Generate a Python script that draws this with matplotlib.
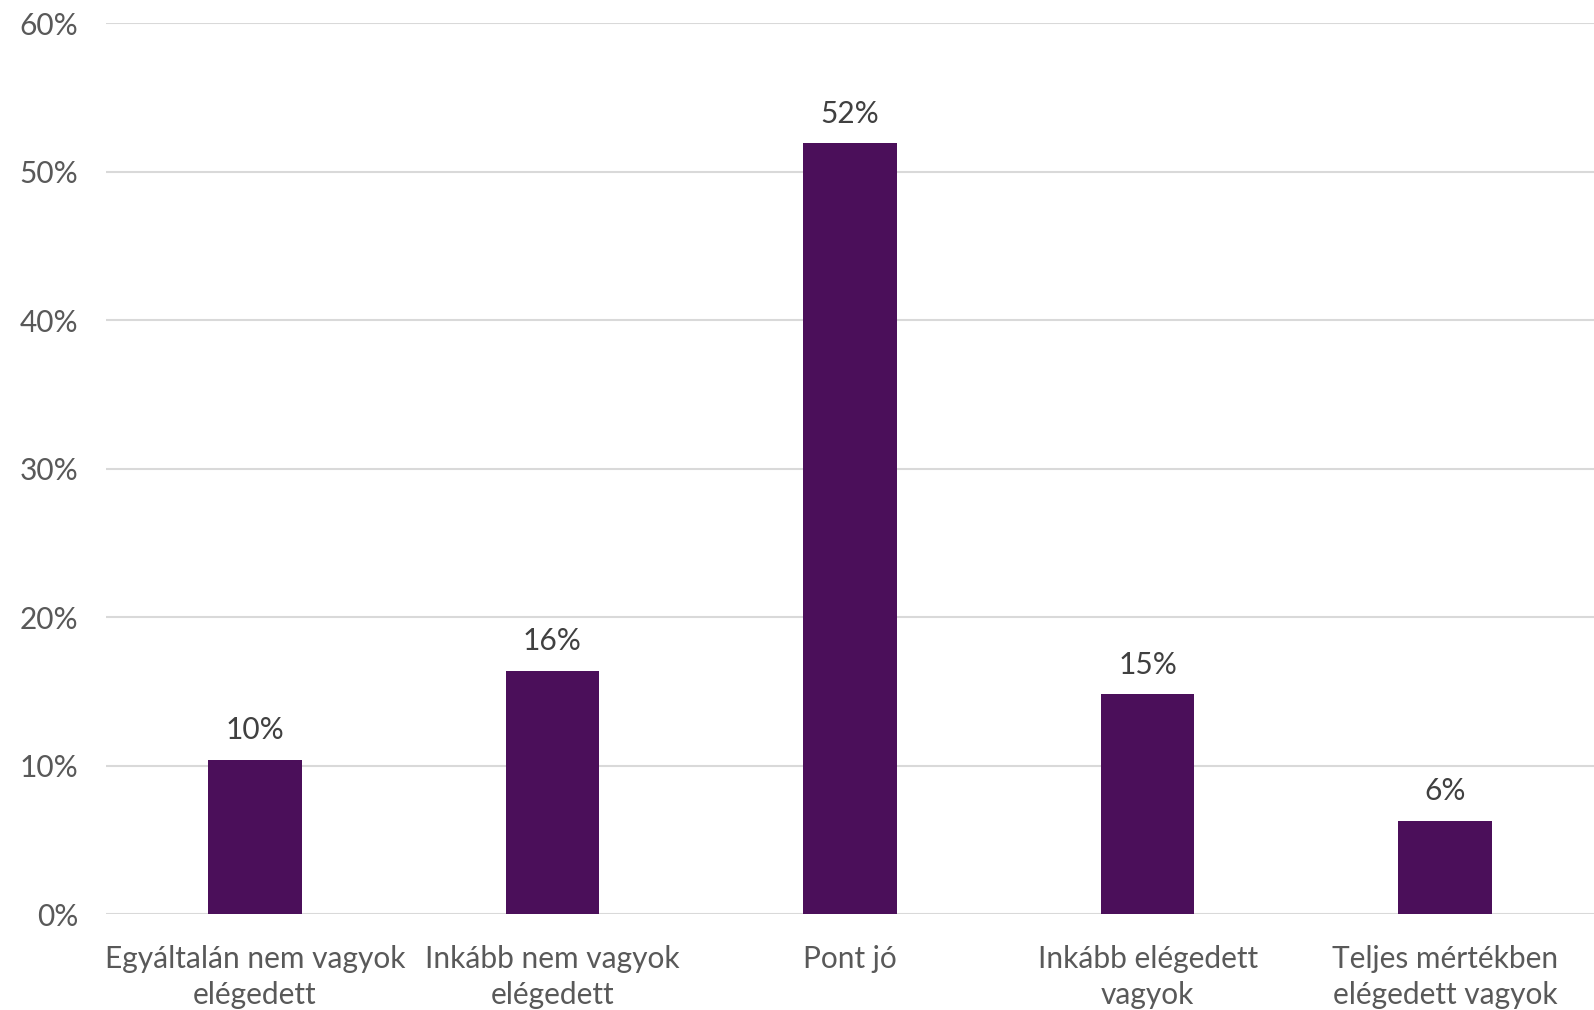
#!/usr/bin/env python3
"""Satisfaction survey bar chart."""

import numpy as np
import matplotlib.pyplot as plt
from matplotlib.ticker import PercentFormatter

plt.rcParams['font.family'] = ['Lato', 'DejaVu Sans']

# Data
categories = ['Egyáltalán nem vagyok\nelégedett', 'Inkább nem vagyok\nelégedett',
              'Pont jó', 'Inkább elégedett\nvagyok', 'Teljes mértékben\nelégedett vagyok']
values = [10.4, 16.4, 51.9, 14.8, 6.3]

bar_color = '#4B0F5A'
text_color = '#595959'

fig = plt.figure(figsize=(15.94, 10.10), dpi=100)
ax = fig.add_axes([0.0665, 0.095, 0.9335, 0.882])

x = np.arange(len(categories))
bars = ax.bar(x, values, width=0.315, color=bar_color, zorder=3)

for b, v in zip(bars, values):
    ax.annotate(f"{v:.0f}%", (b.get_x() + b.get_width() / 2, v),
                xytext=(0, 11), textcoords='offset points',
                ha='center', va='bottom', fontsize=21.5, color='#404040')

ax.set_xlim(-0.5, len(categories) - 0.5)
ax.set_ylim(0, 60)
ax.set_yticks(np.arange(0, 61, 10))
ax.yaxis.set_major_formatter(PercentFormatter(decimals=0))
ax.set_xticks(x)
ax.set_xticklabels(categories, fontsize=21.5, color=text_color, linespacing=1.35)
ax.tick_params(axis='y', labelsize=21.5, labelcolor=text_color, length=0, pad=20)
ax.tick_params(axis='x', length=0, pad=22)

ax.grid(axis='y', color='#D9D9D9', linewidth=1.5, zorder=0)
for s in ax.spines.values():
    s.set_visible(False)

fig.savefig('out.png', dpi=100)
